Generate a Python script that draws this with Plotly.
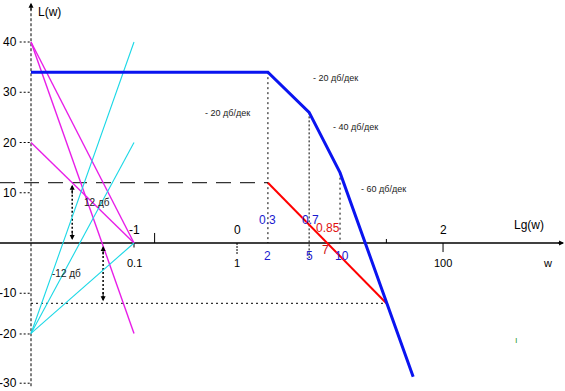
import plotly.graph_objects as go

# ---- data (x in lg(w), y in dB) ----
blue_lg = [-2.0, 0.30, 0.70, 1.00, 1.71]
blue_L = [34, 34, 26, 14, -26.6]

red_lg = [0.30, 1.45]
red_L = [12, -12]

magenta_lines = [
    ([-2.0, -1.0], [20, 0]),
    ([-2.0, -1.0], [40, 0]),
    ([-2.0, -1.0], [40, -18]),
]
cyan_lines = [
    ([-2.0, -1.0], [-18, 40]),
    ([-2.0, -1.0], [-18, 20]),
    ([-2.0, -1.0], [-18, 0]),
]

y_tick_text = ["40", "30", "20", "10", "-10", "-20", "-30"]
y_tick_pos = [40, 30, 20, 10, -10, -18.1, -27.9]

lg_tick_text = ["-1", "0", "2"]
lg_tick_pos = [-1.0, 0.0, 2.0]
w_tick_text = ["0.1", "1", "100"]
w_tick_pos = [-1.0, 0.0, 2.0]
w_blue_text = ["2", "5", "10"]
w_blue_pos = [0.30, 0.70, 1.02]
lg_blue_text = ["0.3", "0.7"]
lg_blue_pos = [0.30, 0.71]

X0, X1 = -2.301, 3.184
Y0, Y1 = -29.45, 48.36

fig = go.Figure()

def line(xs, ys, color, width=1, dash="solid"):
    fig.add_trace(go.Scatter(x=xs, y=ys, mode="lines", hoverinfo="skip",
                             line=dict(color=color, width=width, dash=dash),
                             showlegend=False))

# axes
line([X0, 3.16], [0, 0], "black", 1.3)
line([-2.0, -2.0], [-28.5, 47.2], "black", 1, "3px,2px")

# y tick leaders
lx, ly = [], []
for v in y_tick_pos:
    lx += [-2.11, -2.0, None]
    ly += [v, v, None]
line(lx, ly, "black", 1, "2px,2px")

# horizontal reference lines (+12 / -12 dB)
line([X0, 0.30], [12, 12], "black", 1, "15px,9px")
line([-2.0, 1.45], [-12, -12], "black", 1, "2px,3px")

# vertical dotted lines at breakpoints
line([0.30, 0.30], [34, 0], "black", 1, "2px,3px")
line([0.70, 0.70], [26, -3], "black", 1, "2px,2px")
line([1.00, 1.00], [14, 0], "black", 1, "2px,3px")

# small ticks
line([-0.8, -0.8], [0, 2.0], "black", 1)
line([1.45, 1.45], [0, 0.8], "black", 1)
line([2.0, 2.0], [0, -1.8], "black", 1)
line([-1.0, -1.0], [0, -0.9], "black", 1)
line([0.0, 0.0], [0, -2.2], "black", 1, "2px,1px")

# 12 dB measuring arrows
line([-1.60, -1.60], [11.2, 1.0], "black", 1.5, "2px,2px")
line([-1.30, -1.30], [-1.0, -11.2], "black", 1.5, "2px,2px")

for xs, ys in magenta_lines:
    line(xs, ys, "#e81ee8", 1.4)
for xs, ys in cyan_lines:
    line(xs, ys, "#1ad8e6", 1.1)

line(red_lg, red_L, "#ff0000", 2)
line(blue_lg, blue_L, "#0a14f0", 3)

ann = []
F = "Liberation Sans, Arial, sans-serif"

def txt(x, y, s, size=12, color="black", xanchor="center"):
    ann.append(dict(x=x, y=y, text=s, showarrow=False, xanchor=xanchor,
                    yanchor="middle", font=dict(family=F, size=size, color=color)))

for t, v in zip(y_tick_text, y_tick_pos):
    txt(-2.12, v, t, 12, xanchor="right")
for t, v in zip(lg_tick_text, lg_tick_pos):
    txt(v, 2.6, t, 12)
for t, v in zip(w_tick_text, w_tick_pos):
    txt(v, -3.9, t, 11)
for t, v in zip(w_blue_text, w_blue_pos):
    txt(v, -2.6, t, 12, "#1a1ad0")
for t, v in zip(lg_blue_text, lg_blue_pos):
    txt(v, 4.6, t, 12, "#1a1ad0")
txt(0.855, -1.4, "7", 12, "#d01010")
txt(0.88, 3.0, "0.85", 12, "#e01010")

txt(-1.955, 46.0, "L(w)", 12, xanchor="left")
txt(2.83, 3.6, "Lg(w)", 12)
txt(3.01, -4.0, "w", 11)

txt(0.96, 32.8, "- 20 дб/дек", 9, "#222")
txt(-0.09, 25.9, "- 20 дб/дек", 9, "#222")
txt(1.15, 23.1, "- 40 дб/дек", 9, "#222")
txt(1.42, 10.7, "- 60 дб/дек", 9, "#222")
txt(-1.36, 8.0, "12 дб", 10, "#222")
txt(-1.66, -6.0, "-12 дб", 10, "#222")
txt(2.71, -19.3, "ı", 9, "#2a9a2a")

# arrowheads
def head(x, y, ax, ay):
    ann.append(dict(x=x, y=y, ax=ax, ay=ay, axref="x", ayref="y", xref="x", yref="y",
                    showarrow=True, arrowhead=2, arrowsize=1, arrowwidth=1,
                    arrowcolor="black", text=""))

head(-2.0, 47.8, -2.0, 46.0)
head(3.175, 0, 3.10, 0)
head(-1.60, 11.6, -1.60, 9.5)
head(-1.60, 0.6, -1.60, 2.6)
head(-1.30, -11.6, -1.30, -9.5)
head(-1.30, -0.6, -1.30, -2.6)

fig.update_layout(
    width=565, height=391, margin=dict(l=0, r=0, t=0, b=0),
    paper_bgcolor="white", plot_bgcolor="white",
    xaxis=dict(range=[X0, X1], visible=False, fixedrange=True),
    yaxis=dict(range=[Y0, Y1], visible=False, fixedrange=True),
    annotations=ann, showlegend=False,
)
fig.write_html("out.html", config={"displayModeBar": False},
               post_script="document.body.style.margin='0';document.body.style.overflow='hidden';")
